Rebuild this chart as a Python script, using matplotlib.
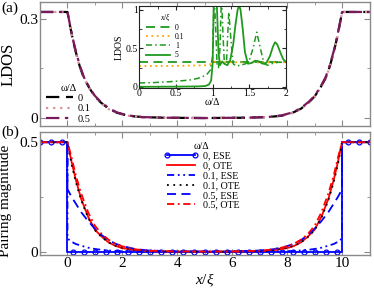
import matplotlib
matplotlib.use('Agg')
import matplotlib.pyplot as plt
from matplotlib.ticker import MultipleLocator

plt.rcParams['font.family'] = ['Liberation Serif', 'DejaVu Serif']
plt.rcParams['mathtext.fontset'] = 'custom'
plt.rcParams['mathtext.rm'] = 'Liberation Serif'
plt.rcParams['mathtext.it'] = 'Liberation Serif:italic'

# ---- panel (a): LDOS along the junction ----
x_ldos = [-1, 0, 0.1, 0.2, 0.3, 0.45, 0.6, 0.8, 1.0, 1.2, 1.5, 1.8, 2.2, 2.7, 3.5,
          5, 6.5, 7.3, 7.8, 8.2, 8.5, 8.8, 9.0, 9.2, 9.4, 9.55, 9.7, 9.8, 9.9, 10, 11]
ldos_w0 = [0.32, 0.32, 0.275, 0.235, 0.2, 0.155, 0.12, 0.09, 0.065, 0.048, 0.028, 0.016, 0.007, 0.003, 0.001,
           0.0, 0.001, 0.003, 0.007, 0.016, 0.028, 0.048, 0.065, 0.09, 0.12, 0.155, 0.2, 0.235, 0.275, 0.32, 0.32]
ldos_w01 = [0.32, 0.32, 0.272, 0.233, 0.198, 0.154, 0.119, 0.089, 0.064, 0.047, 0.027, 0.015, 0.007, 0.003, 0.001,
            0.0, 0.001, 0.003, 0.007, 0.015, 0.027, 0.047, 0.064, 0.089, 0.119, 0.154, 0.198, 0.233, 0.272, 0.32, 0.32]
ldos_w05 = [0.32, 0.32, 0.278, 0.238, 0.203, 0.158, 0.123, 0.092, 0.067, 0.05, 0.03, 0.017, 0.008, 0.003, 0.001,
            0.0, 0.001, 0.003, 0.008, 0.017, 0.03, 0.05, 0.067, 0.092, 0.123, 0.158, 0.203, 0.238, 0.278, 0.32, 0.32]
ldos_labels = ['0', '0.1', '0.5']

# ---- inset: LDOS vs energy ----
w_flat = [0, 2.0]
ldos_x0 = [0.32, 0.32]
w_x01 = [0, 0.5, 0.9, 1.0, 1.05, 1.1, 1.2, 1.5, 2.0]
ldos_x01 = [0.27, 0.272, 0.28, 0.3, 0.34, 0.33, 0.32, 0.315, 0.32]
w_x1 = [0, 0.2, 0.4, 0.6, 0.7, 0.8, 0.88, 0.93, 0.97, 1.0, 1.02, 1.04, 1.06, 1.08, 1.1, 1.12,
        1.14, 1.16, 1.19, 1.22, 1.25, 1.28, 1.32, 1.38, 1.45, 1.5, 1.55, 1.6, 1.65, 1.7, 1.75, 1.8, 1.9, 2.0]
ldos_x1 = [0.05, 0.055, 0.065, 0.08, 0.09, 0.11, 0.14, 0.17, 0.22, 0.4, 1.2, 0.8, 0.3, 0.25, 0.5, 1.2,
           0.7, 0.3, 0.35, 0.97, 0.6, 0.3, 0.27, 0.28, 0.3, 0.35, 0.5, 0.71, 0.5, 0.3, 0.28, 0.3, 0.32, 0.32]
w_x5 = [0, 0.5, 0.8, 0.9, 0.95, 0.98, 1.0, 1.01, 1.02, 1.04, 1.06, 1.08, 1.1, 1.13, 1.16, 1.2,
        1.24, 1.28, 1.31, 1.34, 1.36, 1.38, 1.41, 1.44, 1.48, 1.53, 1.58, 1.63, 1.68, 1.73, 1.78, 1.82,
        1.85, 1.88, 1.92, 1.96, 2.0]
ldos_x5 = [0.0, 0.002, 0.005, 0.01, 0.03, 0.08, 0.3, 0.8, 1.3, 1.5, 1.0, 0.45, 0.28, 0.33, 0.3, 0.28,
           0.35, 0.55, 0.8, 1.0, 1.06, 1.0, 0.75, 0.45, 0.3, 0.31, 0.34, 0.33, 0.3, 0.31, 0.4, 0.52,
           0.58, 0.55, 0.45, 0.36, 0.32]
inset_labels = ['0', '0.1', '1', '5']

# ---- panel (b): pairing magnitude ----
x_pair = [-1, 0, 0, 0.15, 0.3, 0.5, 0.75, 1.0, 1.25, 1.5, 1.75, 2.0, 2.5, 3.0, 4.0,
          5.0, 6.0, 7.0, 7.5, 8.0, 8.25, 8.5, 8.75, 9.0, 9.25, 9.5, 9.7, 9.85, 10, 10, 11]
ote_w0 = [0.5, 0.5, 0.5, 0.41, 0.33, 0.24, 0.16, 0.1, 0.068, 0.042, 0.026, 0.016, 0.006, 0.002, 0.0,
          0.0, 0.0, 0.002, 0.006, 0.016, 0.026, 0.042, 0.068, 0.1, 0.16, 0.24, 0.33, 0.41, 0.5, 0.5, 0.5]
ese_w01 = [0.5, 0.5, 0.06, 0.045, 0.035, 0.027, 0.018, 0.012, 0.008, 0.005, 0.003, 0.002, 0.001, 0.0, 0.0,
           0.0, 0.0, 0.0, 0.001, 0.002, 0.003, 0.005, 0.008, 0.012, 0.018, 0.027, 0.035, 0.045, 0.06, 0.5, 0.5]
ote_w01 = [0.5, 0.5, 0.5, 0.4, 0.32, 0.235, 0.155, 0.098, 0.066, 0.042, 0.027, 0.017, 0.007, 0.002, 0.0,
           0.0, 0.0, 0.002, 0.007, 0.017, 0.027, 0.042, 0.066, 0.098, 0.155, 0.235, 0.32, 0.4, 0.5, 0.5, 0.5]
ese_w05 = [0.5, 0.5, 0.285, 0.25, 0.22, 0.18, 0.14, 0.105, 0.075, 0.052, 0.036, 0.025, 0.011, 0.005, 0.001,
           0.0, 0.001, 0.005, 0.011, 0.025, 0.036, 0.052, 0.075, 0.105, 0.14, 0.18, 0.22, 0.25, 0.285, 0.5, 0.5]
ote_w05 = [0.5, 0.5, 0.5, 0.43, 0.35, 0.265, 0.18, 0.118, 0.08, 0.054, 0.036, 0.024, 0.01, 0.004, 0.001,
           0.0, 0.001, 0.004, 0.01, 0.024, 0.036, 0.054, 0.08, 0.118, 0.18, 0.265, 0.35, 0.43, 0.5, 0.5, 0.5]
x_ese0 = [-1.0, -0.6, -0.2, 0.0, 0.0, 0.2, 0.6, 1.0, 1.4, 1.8, 2.2, 2.6, 3.0, 3.4, 3.8, 4.2, 4.6,
          5.0, 5.4, 5.8, 6.2, 6.6, 7.0, 7.4, 7.8, 8.2, 8.6, 9.0, 9.4, 9.8, 10.0, 10.0, 10.2, 10.6, 11.0]
ese_w0 = [0.5] * 4 + [0.0] * 27 + [0.5] * 4
pair_labels = ['0, ESE', '0, OTE', '0.1, ESE', '0.1, OTE', '0.5, ESE', '0.5, OTE']

spine_col = '#8a8a8a'


def style_axes(ax, col):
    for s in ax.spines.values():
        s.set_color(col)
        s.set_linewidth(1.0)
    ax.tick_params(which='both', direction='in', top=True, right=True, color=col)


fig = plt.figure(figsize=(3.74, 2.89), dpi=100)
ax1 = fig.add_axes([0.107, 0.564, 0.881, 0.429])
ax2 = fig.add_axes([0.107, 0.118, 0.881, 0.424])

# panel (a)
ax1.plot(x_ldos, ldos_w0, color='black', lw=1.6, dashes=(6, 3), label=ldos_labels[0])
ax1.plot(x_ldos, ldos_w01, color='#d9939b', lw=1.6, dashes=(1, 2.2), label=ldos_labels[1])
ax1.plot(x_ldos, ldos_w05, color='#7a1a5c', lw=1.6, dashes=(6, 2.5, 1.5, 2.5), label=ldos_labels[2])
ax1.set_xlim(-1, 11)
ax1.set_ylim(-0.024, 0.35)
ax1.set_yticks([0, 0.3])
ax1.set_yticklabels(['0', '0.3'])
ax1.yaxis.set_minor_locator(MultipleLocator(0.15))
ax1.xaxis.set_major_locator(MultipleLocator(2))
ax1.xaxis.set_minor_locator(MultipleLocator(1))
ax1.set_xticklabels([])
style_axes(ax1, spine_col)
ax1.tick_params(which='major', length=4, labelsize=11, pad=1.5)
ax1.tick_params(which='minor', length=2.5)
ax1.set_ylabel('LDOS', fontsize=12, labelpad=2)
ax1.legend(title='ω/Δ', loc='lower left', bbox_to_anchor=(-0.005, -0.04), frameon=False,
           fontsize=7.5, title_fontsize=7.5, handlelength=2.6, handletextpad=0.5,
           labelspacing=0.1, borderpad=0.2)
fig.text(0.005, 0.995, '(a)', fontsize=11, va='top', ha='left')

# inset
axi = fig.add_axes([0.372, 0.697, 0.393, 0.282])
axi.plot(w_flat, ldos_x0, color='#1f9a1f', lw=1.3, dashes=(5, 3), label=inset_labels[0])
axi.plot(w_x01, ldos_x01, color='#ffa500', lw=1.3, dashes=(1, 2), label=inset_labels[1])
axi.plot(w_x1, ldos_x1, color='#1f9a1f', lw=1.1, dashes=(4, 2, 1, 2), label=inset_labels[2])
axi.plot(w_x5, ldos_x5, color='#1f9a1f', lw=1.3, label=inset_labels[3])
axi.set_xlim(0, 2)
axi.set_ylim(-0.01, 1.05)
axi.set_xticks([0, 0.5, 1, 1.5, 2])
axi.set_xticklabels(['0', '0.5', '1', '1.5', '2'])
axi.set_yticks([0, 0.5, 1])
axi.set_yticklabels(['0', '0.5', '1'])
axi.xaxis.set_minor_locator(MultipleLocator(0.25))
axi.yaxis.set_minor_locator(MultipleLocator(0.25))
style_axes(axi, '#222222')
for s in axi.spines.values():
    s.set_linewidth(0.8)
axi.tick_params(which='major', length=3, labelsize=7, pad=1)
axi.tick_params(which='minor', length=1.8)
axi.set_xlabel('ω/Δ', fontsize=7, labelpad=0)
axi.set_ylabel('LDOS', fontsize=7, labelpad=1)
axi.legend(title=r'$x/\xi$', loc='upper left', bbox_to_anchor=(0.01, 1.0), frameon=False,
           fontsize=5.5, title_fontsize=5.5, handlelength=3.2, handletextpad=0.6,
           labelspacing=0.15, borderpad=0.2)

# panel (b)
ax2.plot(x_ese0, ese_w0, color='blue', lw=1.3, marker='o', ms=3.5, mfc='none', mec='blue', mew=0.9,
         markevery=[i for i in range(len(x_ese0)) if i not in (3, 4, 30, 31)], label=pair_labels[0])
ax2.plot(x_pair, ote_w0, color='red', lw=1.3, label=pair_labels[1])
ax2.plot(x_pair, ese_w01, color='blue', lw=1.3, dashes=(4, 2, 1, 2, 1, 2), label=pair_labels[2])
ax2.plot(x_pair, ote_w01, color='black', lw=1.3, dashes=(1, 2.5), label=pair_labels[3])
ax2.plot(x_pair, ese_w05, color='blue', lw=1.3, dashes=(5, 3), label=pair_labels[4])
ax2.plot(x_pair, ote_w05, color='red', lw=1.3, dashes=(4, 2, 1, 2), label=pair_labels[5])
ax2.set_xlim(-1, 11)
ax2.set_ylim(-0.015, 0.545)
ax2.set_yticks([0, 0.5])
ax2.set_yticklabels(['0', '0.5'])
ax2.yaxis.set_minor_locator(MultipleLocator(0.25))
ax2.set_xticks([0, 2, 4, 6, 8, 10])
ax2.xaxis.set_minor_locator(MultipleLocator(1))
style_axes(ax2, spine_col)
ax2.tick_params(which='major', length=4, labelsize=11, pad=1.5)
ax2.tick_params(which='minor', length=2.5)
ax2.set_ylabel('Pairing magnitude', fontsize=11, labelpad=0)
ax2.yaxis.set_label_coords(-0.085, 0.44)
ax2.set_xlabel(r'$x/\xi$', fontsize=11, labelpad=1)
ax2.legend(title='ω/Δ', loc='upper left', bbox_to_anchor=(0.355, 0.98), frameon=False,
           fontsize=7.2, title_fontsize=7.2, handlelength=3.4, handletextpad=0.5,
           labelspacing=0.08, borderpad=0.2, numpoints=2)
fig.text(0.005, 0.567, '(b)', fontsize=11, va='top', ha='left')

fig.savefig('out.png', dpi=100)
